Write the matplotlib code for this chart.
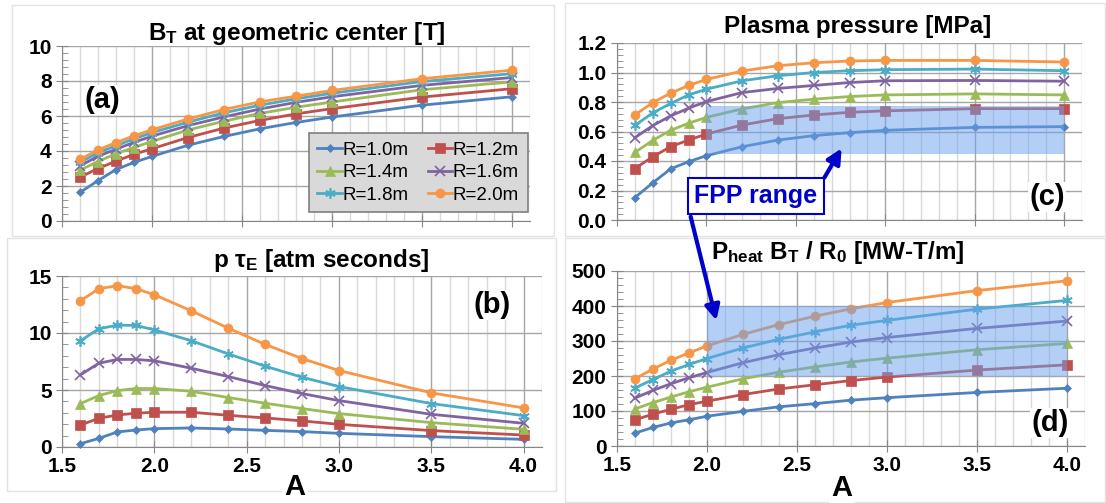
import matplotlib
matplotlib.use('Agg')
import matplotlib.pyplot as plt
from matplotlib.ticker import MultipleLocator, FormatStrFormatter
from matplotlib.patches import Rectangle, FancyArrowPatch

plt.rcParams['font.family'] = ['Liberation Sans', 'DejaVu Sans']
plt.rcParams['mathtext.fontset'] = 'custom'
plt.rcParams['mathtext.rm'] = 'Liberation Sans:bold'
plt.rcParams['mathtext.it'] = 'Liberation Sans:bold'
plt.rcParams['mathtext.bf'] = 'Liberation Sans:bold'

W, H = 1106, 503

# aspect ratio A
aspect = [1.6, 1.7, 1.8, 1.9, 2.0, 2.2, 2.4, 2.6, 2.8, 3.0, 3.5, 4.0]
labels = ['R=1.0m', 'R=1.2m', 'R=1.4m', 'R=1.6m', 'R=1.8m', 'R=2.0m']
colors = ['#4F81BD', '#C0504D', '#9BBB59', '#8064A2', '#4BACC6', '#F79646']
markers = ['D', 's', '^', 'x', (6, 2, 0), 'o']
msizes = [4.5, 6.5, 6.5, 6.5, 7.5, 6.5]

# (a) B_T at geometric center [T]
bt_center = [
    [1.63, 2.31, 2.94, 3.35, 3.69, 4.33, 4.83, 5.27, 5.63, 5.94, 6.62, 7.10],
    [2.50, 3.00, 3.42, 3.81, 4.13, 4.77, 5.31, 5.75, 6.12, 6.42, 7.08, 7.56],
    [2.90, 3.40, 3.85, 4.20, 4.55, 5.20, 5.70, 6.15, 6.50, 6.80, 7.50, 7.95],
    [3.15, 3.70, 4.10, 4.50, 4.85, 5.45, 5.95, 6.40, 6.78, 7.10, 7.75, 8.20],
    [3.35, 3.90, 4.30, 4.70, 5.05, 5.65, 6.18, 6.62, 6.98, 7.30, 7.97, 8.42],
    [3.52, 4.06, 4.48, 4.87, 5.21, 5.83, 6.37, 6.81, 7.13, 7.46, 8.13, 8.62],
]

# (b) p tau_E [atm seconds]
p_tau = [
    [0.29, 0.76, 1.32, 1.49, 1.61, 1.67, 1.58, 1.46, 1.35, 1.20, 0.91, 0.67],
    [1.93, 2.52, 2.81, 2.96, 3.05, 3.05, 2.78, 2.55, 2.29, 1.99, 1.44, 1.05],
    [3.81, 4.51, 4.95, 5.13, 5.13, 4.89, 4.34, 3.84, 3.37, 2.93, 2.14, 1.55],
    [6.33, 7.35, 7.68, 7.68, 7.56, 6.91, 6.18, 5.39, 4.69, 4.07, 2.87, 2.08],
    [9.32, 10.37, 10.69, 10.66, 10.28, 9.32, 8.17, 7.09, 6.12, 5.30, 3.81, 2.75],
    [12.83, 13.89, 14.15, 13.89, 13.36, 11.95, 10.43, 9.00, 7.76, 6.71, 4.75, 3.43],
]

# (c) plasma pressure [MPa]
pressure = [
    [0.152, 0.252, 0.347, 0.395, 0.436, 0.497, 0.542, 0.572, 0.592, 0.608, 0.628, 0.633],
    [0.349, 0.429, 0.497, 0.542, 0.583, 0.644, 0.687, 0.712, 0.730, 0.740, 0.755, 0.755],
    [0.458, 0.540, 0.608, 0.656, 0.696, 0.753, 0.796, 0.819, 0.837, 0.848, 0.855, 0.848],
    [0.558, 0.640, 0.706, 0.758, 0.803, 0.864, 0.892, 0.912, 0.932, 0.944, 0.946, 0.941],
    [0.642, 0.726, 0.790, 0.848, 0.887, 0.944, 0.978, 1.000, 1.012, 1.019, 1.023, 1.012],
    [0.712, 0.796, 0.860, 0.912, 0.953, 1.010, 1.046, 1.066, 1.078, 1.082, 1.082, 1.071],
]

# (d) P_heat B_T / R_0 [MW-T/m]
pbr = [
    [37, 53, 66, 75, 85, 99, 112, 121, 131, 138, 153, 165],
    [75, 91, 105, 118, 128, 147, 163, 175, 187, 197, 217, 232],
    [106, 124, 140, 155, 168, 192, 211, 226, 240, 251, 275, 293],
    [137, 159, 178, 195, 210, 238, 261, 280, 297, 310, 336, 357],
    [166, 190, 214, 233, 250, 280, 305, 326, 345, 359, 391, 416],
    [192, 220, 245, 266, 286, 319, 347, 371, 392, 410, 444, 472],
]

# FPP range boxes (A range, value range)
fpp_a = (2.0, 4.0)
fpp_pressure = (0.45, 0.77)
fpp_pbr = (200, 400)

fig = plt.figure(figsize=(W / 100, H / 100), dpi=100)


def px_axes(l, t, r, b):
    return fig.add_axes([l / W, 1 - b / H, (r - l) / W, (b - t) / H])


# light chart-area borders
for (l, t, r, b) in [(12, 5, 554, 236), (7, 238, 556, 491), (565, 3, 1105, 236), (565, 238, 1105, 502)]:
    fig.add_artist(Rectangle((l / W, 1 - b / H), (r - l) / W, (b - t) / H,
                             transform=fig.transFigure, fill=False,
                             ec='#E3E3E3', lw=1, zorder=-1))


def setup(ax, data, ymax, ymaj, ymin, fmt, xlabels):
    lines = []
    for vals, c, m, ms, lab in zip(data, colors, markers, msizes, labels):
        ln, = ax.plot(aspect, vals, color=c, marker=m, ms=ms, lw=2,
                      mew=1.2 if m in ('x', (6, 2, 0)) else 0.5,
                      mec=c, label=lab, zorder=3, clip_on=False)
        lines.append(ln)
    ax.set_xlim(1.5, 4.1)
    ax.set_ylim(0, ymax)
    ax.xaxis.set_major_locator(MultipleLocator(0.5))
    ax.xaxis.set_minor_locator(MultipleLocator(0.1))
    ax.yaxis.set_major_locator(MultipleLocator(ymaj))
    ax.yaxis.set_minor_locator(MultipleLocator(ymin))
    ax.xaxis.set_major_formatter(FormatStrFormatter('%.1f'))
    ax.yaxis.set_major_formatter(FormatStrFormatter(fmt))
    ax.grid(True, which='major', axis='x', color='#A6A6A6', lw=1)
    ax.grid(True, which='minor', axis='x', color='#D9D9D9', lw=1)
    ax.grid(True, which='major', axis='y', color='#A6A6A6', lw=1)
    ax.set_axisbelow(True)
    for s in ('top', 'right'):
        ax.spines[s].set_visible(False)
    for s in ('left', 'bottom'):
        ax.spines[s].set_color('#868686')
    ax.tick_params(which='major', direction='inout', length=9, color='#868686',
                   labelsize=15, pad=3)
    ax.tick_params(axis='x', which='minor', length=0)
    ax.tick_params(axis='y', which='minor', direction='in', length=4, color='#868686')
    for t in ax.get_xticklabels() + ax.get_yticklabels():
        t.set_fontweight('bold')
    if not xlabels:
        ax.tick_params(axis='x', labelbottom=False)
    return lines


ax_a = px_axes(62, 46, 530, 221)
lines = setup(ax_a, bt_center, 10, 2, 0.4, '%d', False)
ax_b = px_axes(62, 276, 542, 447)
setup(ax_b, p_tau, 15, 5, 1, '%d', True)
ax_c = px_axes(617, 43, 1082, 220)
setup(ax_c, pressure, 1.2, 0.2, 0.04, '%.1f', False)
ax_d = px_axes(617, 271, 1085, 446)
setup(ax_d, pbr, 500, 100, 20, '%d', True)

# FPP range shading
ax_c.add_patch(Rectangle((fpp_a[0], fpp_pressure[0]), fpp_a[1] - fpp_a[0],
                         fpp_pressure[1] - fpp_pressure[0],
                         fc='#69A1EF', ec='none', alpha=0.5, zorder=4))
ax_d.add_patch(Rectangle((fpp_a[0], fpp_pbr[0]), fpp_a[1] - fpp_a[0],
                         fpp_pbr[1] - fpp_pbr[0],
                         fc='#69A1EF', ec='none', alpha=0.5, zorder=4))

# legend in panel (a)
order = [0, 2, 4, 1, 3, 5]
leg = ax_a.legend([lines[i] for i in order], [labels[i] for i in order], ncol=2,
                  loc='upper left', bbox_to_anchor=(309 / W, 1 - 133 / H),
                  bbox_transform=fig.transFigure, borderaxespad=0,
                  fontsize=13.5, frameon=True, fancybox=False, facecolor='#D9D9D9',
                  edgecolor='#7F7F7F', framealpha=1, handlelength=1.3,
                  handletextpad=0.05, columnspacing=1.0, labelspacing=0.3,
                  borderpad=0.45)
leg.get_frame().set_linewidth(1.2)
leg.set_zorder(10)

# titles
tkw = dict(ha='center', va='center', fontsize=17.5, fontweight='bold')
fig.text(297 / W, 1 - 33 / H, r'B$_\mathrm{T}$ at geometric center [T]', **tkw)
fig.text(321 / W, 1 - 260 / H, r'p τ$_\mathrm{E}$ [atm seconds]', **tkw)
fig.text(858 / W, 1 - 27 / H, 'Plasma pressure [MPa]', **tkw)
fig.text(838 / W, 1 - 253 / H, r'P$_\mathrm{heat}$ B$_\mathrm{T}$ / R$_\mathrm{0}$ [MW-T/m]', **tkw)

# panel tags
pkw = dict(ha='center', va='center', fontsize=21, fontweight='bold', zorder=12,
           bbox=dict(fc='white', ec='none', pad=1))
fig.text(102 / W, 1 - 100 / H, '(a)', **pkw)
fig.text(492 / W, 1 - 305 / H, '(b)', **pkw)
fig.text(1047 / W, 1 - 197 / H, '(c)', **pkw)
fig.text(1050 / W, 1 - 423 / H, '(d)', **pkw)

# x-axis labels
akw = dict(ha='center', va='center', fontsize=21, fontweight='bold',
           bbox=dict(fc='white', ec='none', pad=2))
fig.text(295 / W, 1 - 487 / H, 'A', **akw)
fig.text(842 / W, 1 - 488 / H, 'A', **akw)

# FPP range callout
fig.text(756 / W, 1 - 196 / H, 'FPP range', ha='center', va='center', fontsize=18,
         fontweight='bold', color='#0000CC', zorder=12,
         bbox=dict(boxstyle='square,pad=0.25', fc='white', ec='#0000CC', lw=1.5))
for (x0, y0), (x1, y1) in [((823, 180), (843, 146)), ((690, 214), (717, 323))]:
    fig.add_artist(FancyArrowPatch((x0 / W, 1 - y0 / H), (x1 / W, 1 - y1 / H),
                                   transform=fig.transFigure, arrowstyle='-|>',
                                   mutation_scale=22, color='#0000CC', lw=3,
                                   zorder=11))

fig.savefig('out.png', dpi=100)
